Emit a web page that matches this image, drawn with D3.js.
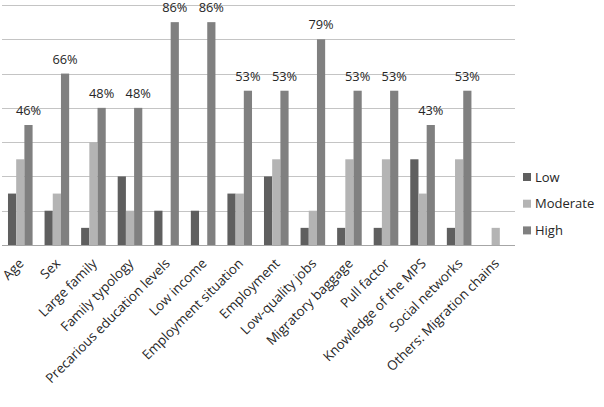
<!DOCTYPE html>
<html>
<head>
<meta charset="utf-8">
<script src="https://cdn.jsdelivr.net/npm/d3@7"></script>
<style>
  body { margin: 0; background: #fff; }
  text { font-family: "Open Sans", "DejaVu Sans", sans-serif; fill: #262626; }
</style>
</head>
<body>
<svg id="chart" width="604" height="407"></svg>
<script>
// categories and values (counts)
var categories = ["Age", "Sex", "Large family", "Family typology", "Precarious education levels",
  "Low income", "Employment situation", "Employment", "Low-quality jobs", "Migratory baggage",
  "Pull factor", "Knowledge of the MPS", "Social networks", "Others: Migration chains"];
var seriesNames = ["Low", "Moderate", "High"];
var lowVals = [3, 2, 1, 4, 2, 2, 3, 4, 1, 1, 1, 5, 1, 0];
var moderateVals = [5, 3, 6, 2, 0, 0, 3, 5, 2, 5, 5, 3, 5, 1];
var highVals = [7, 10, 8, 8, 13, 13, 9, 9, 12, 9, 9, 7, 9, 0];
var highLabels = ["46%", "66%", "48%", "48%", "86%", "86%", "53%", "53%", "79%", "53%", "53%", "43%", "53%", ""];
var yTicks = [0, 2, 4, 6, 8, 10, 12, 14];
var colors = ["#5f5f5f", "#b4b4b4", "#808080"];

var svg = d3.select("#chart");
var plotLeft = 2, plotRight = 514, plotTop = 5, plotBottom = 245;

var x = d3.scaleBand().domain(categories).range([plotLeft, plotRight]).paddingInner(0).paddingOuter(0);
var inner = d3.scaleBand().domain(seriesNames).range([0, 24.6]);
var y = d3.scaleLinear().domain([0, 14]).range([plotBottom, plotTop]);

// gridlines
svg.append("g")
  .selectAll("line")
  .data(yTicks)
  .join("line")
  .attr("x1", plotLeft)
  .attr("x2", plotRight + 1)
  .attr("y1", d => Math.round(y(d)) + 0.5)
  .attr("y2", d => Math.round(y(d)) + 0.5)
  .attr("stroke", d => d === 0 ? "#a6a6a6" : "#c4c4c4")
  .attr("stroke-width", 1);

var rows = categories.map((c, i) => ({ cat: c, vals: [lowVals[i], moderateVals[i], highVals[i]], label: highLabels[i] }));

var groups = svg.append("g")
  .selectAll("g")
  .data(rows)
  .join("g")
  .attr("transform", d => "translate(" + (x(d.cat) + (x.bandwidth() - 24.6) / 2) + ",0)");

groups.selectAll("rect")
  .data(d => d.vals.map((v, j) => ({ s: seriesNames[j], v: v, j: j })))
  .join("rect")
  .attr("x", d => inner(d.s))
  .attr("width", inner.bandwidth())
  .attr("y", d => y(d.v))
  .attr("height", d => y(0) - y(d.v))
  .attr("fill", d => colors[d.j]);

// percentage labels above High bars
groups.append("text")
  .attr("x", inner("High") + inner.bandwidth() / 2)
  .attr("y", d => y(d.vals[2]) - 10)
  .attr("text-anchor", "middle")
  .style("font-size", "12.8px")
  .text(d => d.label);

// rotated category labels
svg.append("g")
  .selectAll("text")
  .data(categories)
  .join("text")
  .attr("transform", d => "translate(" + (x(d) + x.bandwidth() / 2 + 1) + "," + 261 + ") rotate(-45)")
  .attr("text-anchor", "end")
  .attr("dy", "0.35em")
  .style("font-size", "13.3px")
  .text(d => d);

// legend
var legend = svg.append("g")
  .selectAll("g")
  .data(seriesNames)
  .join("g")
  .attr("transform", (d, i) => "translate(523," + (177 + i * 26.7) + ")");
legend.append("rect")
  .attr("x", 0).attr("y", -4).attr("width", 8).attr("height", 8)
  .attr("fill", (d, i) => colors[i]);
legend.append("text")
  .attr("x", 12)
  .attr("dy", "0.35em")
  .style("font-size", "13px")
  .text(d => d);
</script>
</body>
</html>
